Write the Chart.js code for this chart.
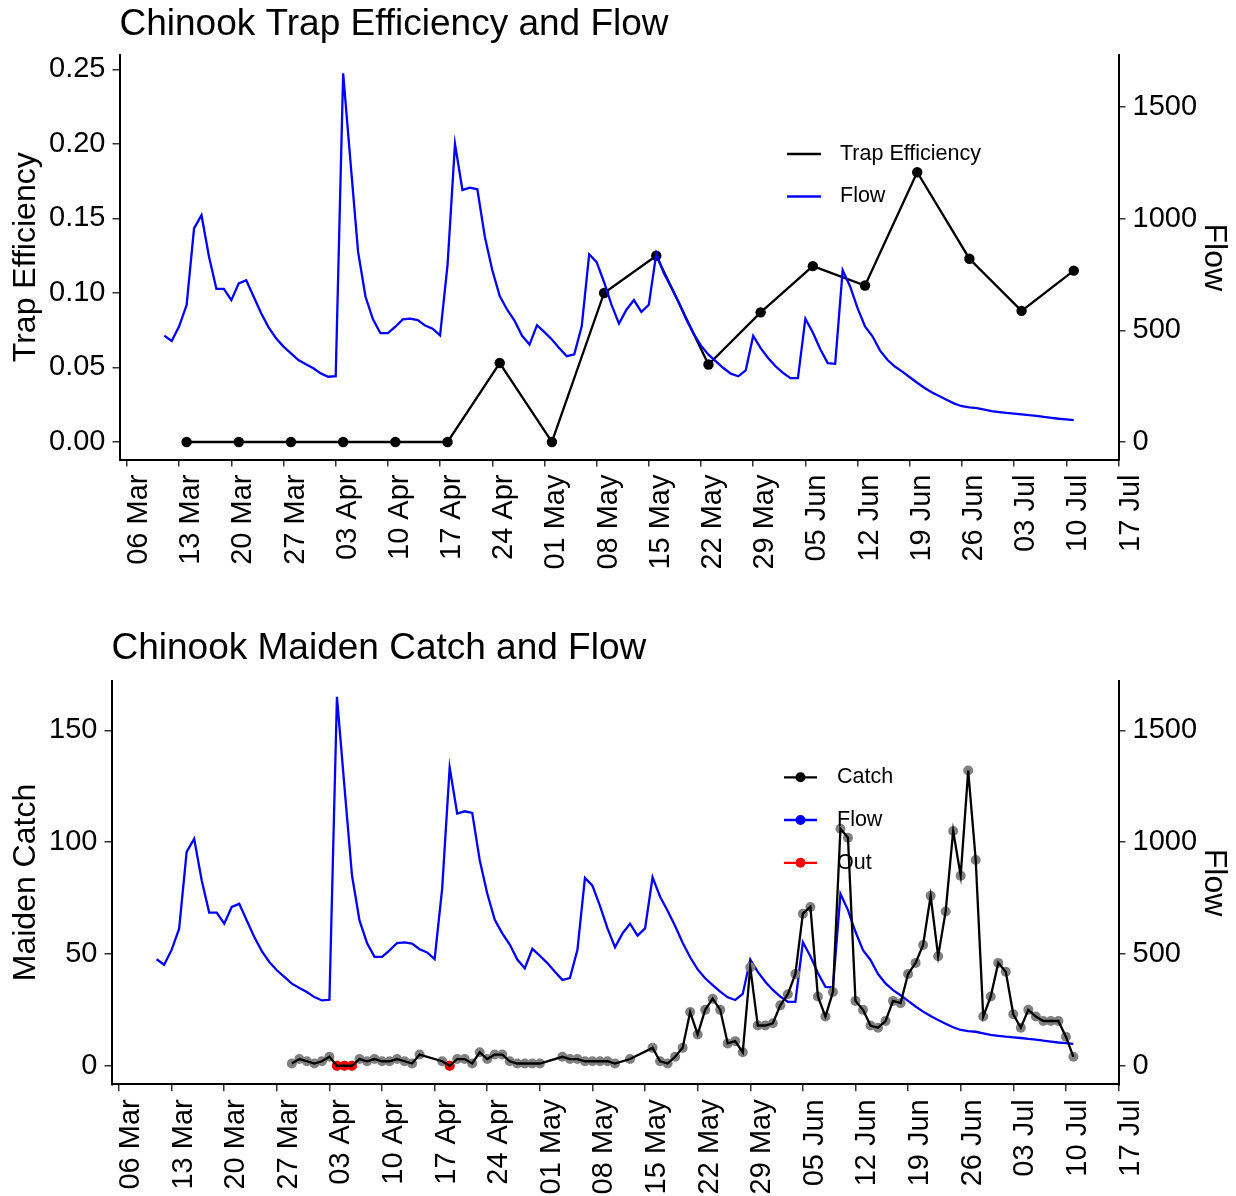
<!DOCTYPE html>
<html>
<head>
<meta charset="utf-8">
<script src="https://cdn.jsdelivr.net/npm/chart.js@4.4.1/dist/chart.umd.min.js"></script>
<style>
  html, body { margin: 0; padding: 0; background: #ffffff; }
  #wrap { position: relative; width: 1236px; height: 1196px; overflow: hidden; }
  canvas { position: absolute; left: 0; }
  #c1 { top: 0; width: 1236px; height: 600px; }
  #c2 { top: 600px; width: 1236px; height: 596px; }
</style>
</head>
<body>
<div id="wrap">
  <canvas id="c1" width="1236" height="600"></canvas>
  <canvas id="c2" width="1236" height="596"></canvas>
</div>
<script>
// ---------------- DATA ----------------
const tickDates  = ["03-06","03-13","03-20","03-27","04-03","04-10","04-17","04-24","05-01","05-08",
                    "05-15","05-22","05-29","06-05","06-12","06-19","06-26","07-03","07-10","07-17"];
const tickLabels = ["06 Mar","13 Mar","20 Mar","27 Mar","03 Apr","10 Apr","17 Apr","24 Apr","01 May","08 May",
                    "15 May","22 May","29 May","05 Jun","12 Jun","19 Jun","26 Jun","03 Jul","10 Jul","17 Jul"];

// Daily flow, first value on 11 Mar, one value per day through 11 Jul
const flowStart = "03-11";
const flowValues = [
  476, 452, 518, 613, 956, 1015, 830, 685, 685, 635,
  710, 724, 650, 576, 513, 464, 427, 397, 367, 348,
  330, 307, 292, 295, 1650, 1247, 852, 650, 549, 487,
  487, 516, 549, 552, 546, 521, 507, 477, 792, 1334,
  1128, 1138, 1131, 919, 770, 653, 592, 542, 475, 436,
  523, 492, 459, 420, 384, 392, 518, 840, 805, 715,
  614, 530, 592, 635, 582, 614, 843, 756, 693, 625,
  550, 485, 431, 391, 361, 331, 306, 294, 321, 475,
  420, 376, 339, 309, 286, 286, 552, 490, 415, 353,
  350, 769, 696, 599, 517, 473, 410, 368, 338, 315,
  290, 265, 242, 222, 205, 188, 172, 160, 155, 152,
  145, 138, 134, 130, 127, 124, 120, 117, 112, 108,
  104, 101, 98
];

// Weekly trap efficiency
const teDates  = ["03-14","03-21","03-28","04-04","04-11","04-18","04-25","05-02","05-09",
                  "05-16","05-23","05-30","06-06","06-13","06-20","06-27","07-04","07-11"];
const teValues = [0, 0, 0, 0, 0, 0, 0.053, 0, 0.100,
                  0.125, 0.052, 0.087, 0.118, 0.105, 0.181, 0.123, 0.088, 0.115];

// Daily maiden catch
const catchDates = [
  "03-29","03-30","03-31","04-01","04-02","04-03","04-04","04-05","04-06","04-07",
  "04-08","04-09","04-10","04-11","04-12","04-13","04-14","04-15","04-18","04-19",
  "04-20","04-21","04-22","04-23","04-24","04-25","04-26","04-27","04-28","04-29",
  "04-30","05-01","05-04","05-05","05-06","05-07","05-08","05-09","05-10","05-11",
  "05-13","05-16","05-17","05-18","05-19","05-20","05-21","05-22","05-23","05-24",
  "05-25","05-26","05-27","05-28","05-29","05-30","05-31","06-01","06-02","06-03",
  "06-04","06-05","06-06","06-07","06-08","06-09","06-10","06-11","06-12","06-13",
  "06-14","06-15","06-16","06-17","06-18","06-19","06-20","06-21","06-22","06-23",
  "06-24","06-25","06-26","06-27","06-28","06-29","06-30","07-01","07-02","07-03",
  "07-04","07-05","07-06","07-07","07-08","07-09","07-10","07-11"
];
const catchValues = [
  1, 3, 2, 1, 2, 4, 0, 0, 0, 3,
  2, 3, 2, 2, 3, 2, 1, 5, 2, 0,
  3, 3, 1, 6, 3, 5, 5, 2, 1, 1,
  1, 1, 4, 3, 3, 2, 2, 2, 2, 1,
  3, 8, 2, 1, 4, 8, 24, 14, 25, 30,
  25, 10, 11, 6, 44, 18, 18, 19, 27, 32,
  41, 68, 71, 31, 22, 33, 106, 102, 29, 25,
  18, 17, 20, 29, 28, 41, 46, 54, 76, 49,
  69, 105, 85, 132, 92, 22, 31, 46, 42, 23,
  17, 25, 22, 20, 20, 20, 13, 4
];

// Days when the trap was out
const outDates  = ["04-04","04-05","04-06","04-19"];
const outValues = [0, 0, 0, 0];

const teTicks    = [0, 0.05, 0.10, 0.15, 0.20, 0.25];
const flowTicks  = [0, 500, 1000, 1500];
const catchTicks = [0, 50, 100, 150];

// ---------------- HELPERS ----------------
const REF = Date.UTC(2001, 2, 6);
function dayOf(md) {
  const [m, d] = md.split("-").map(Number);
  return (Date.UTC(2001, m - 1, d) - REF) / 86400000;
}
const flowPoints  = flowValues.map((v, i) => ({ x: dayOf(flowStart) + i, y: v }));
const tePoints    = teDates.map((d, i) => ({ x: dayOf(d), y: teValues[i] }));
const catchPoints = catchDates.map((d, i) => ({ x: dayOf(d), y: catchValues[i] }));
const outPoints   = outDates.map((d, i) => ({ x: dayOf(d), y: outValues[i] }));

const FONT = '"Liberation Sans", Arial, Helvetica, sans-serif';
Chart.defaults.font.family = FONT;
Chart.defaults.color = "#000";

const X_MIN = dayOf("03-05");
const X_MAX = dayOf("07-17");
const LINE_W = 2.3;

function xAxis(height) {
  return {
    type: "linear",
    min: X_MIN,
    max: X_MAX,
    afterBuildTicks: s => { s.ticks = tickDates.map(t => ({ value: dayOf(t) })); },
    ticks: {
      autoSkip: false, minRotation: 90, maxRotation: 90,
      labelOffset: 12, padding: 8, color: "#000",
      font: { size: 29 },
      callback: (v, i) => tickLabels[i]
    },
    grid: { drawOnChartArea: false, drawTicks: true, tickLength: 7, color: "#333", lineWidth: 1.5 },
    border: { display: true, color: "#000", width: 2 },
    afterFit: s => { s.height = height; }
  };
}

function yAxis(opts) {
  return {
    type: "linear",
    position: opts.position,
    min: opts.min,
    max: opts.max,
    afterBuildTicks: s => { s.ticks = opts.ticks.map(v => ({ value: v })); },
    ticks: { color: "#000", font: { size: 29 }, padding: 7, callback: opts.fmt },
    grid: { drawOnChartArea: false, drawTicks: true, tickLength: 7, color: "#333", lineWidth: 1.5 },
    border: { display: true, color: "#000", width: 2 },
    title: { display: true, text: opts.title, color: "#000", font: { size: 32 },
             padding: { top: opts.titlePad, bottom: 0 } },
    afterFit: s => { s.width = opts.width; }
  };
}

const manualLegend = {
  id: "manualLegend",
  afterDraw(chart, args, o) {
    if (!o || !o.items) return;
    const ctx = chart.ctx;
    ctx.save();
    o.items.forEach(it => {
      const ds = chart.data.datasets[it.ds];
      ctx.strokeStyle = it.color;
      ctx.lineWidth = LINE_W;
      ctx.beginPath();
      ctx.moveTo(o.x0, it.y);
      ctx.lineTo(o.x1, it.y);
      ctx.stroke();
      if (o.dots) {
        ctx.fillStyle = it.color;
        ctx.beginPath();
        ctx.arc((o.x0 + o.x1) / 2, it.y, 5, 0, Math.PI * 2);
        ctx.fill();
      }
      ctx.fillStyle = "#000";
      ctx.font = "21.5px " + FONT;
      ctx.textAlign = "left";
      ctx.textBaseline = "middle";
      ctx.fillText(ds.label, o.tx, it.y);
    });
    ctx.restore();
  }
};

// ---------------- CHART 1 ----------------
new Chart(document.getElementById("c1"), {
  type: "line",
  data: {
    datasets: [
      { label: "Flow", data: flowPoints, yAxisID: "y1", borderColor: "#0000FF", borderWidth: LINE_W,
        pointRadius: 0, tension: 0, order: 0 },
      { label: "Trap Efficiency", data: tePoints, yAxisID: "y", borderColor: "#000", backgroundColor: "#000",
        borderWidth: LINE_W, pointRadius: 5.2, pointBorderWidth: 0, pointBackgroundColor: "#000", tension: 0, order: 1 }
    ]
  },
  options: {
    responsive: false, animation: false, devicePixelRatio: 1,
    layout: { padding: { top: 3, left: 0, right: 0, bottom: 0 }, autoPadding: false },
    plugins: {
      legend: { display: false },
      tooltip: { enabled: false },
      title: { display: true, text: "Chinook Trap Efficiency and Flow", align: "start", fullSize: false,
               color: "#000", font: { size: 37, weight: "normal" }, padding: { top: 0, bottom: 7.6 } },
      manualLegend: { x0: 787, x1: 821, tx: 840, dots: false,
        items: [ { ds: 1, color: "#000", y: 154 }, { ds: 0, color: "#0000FF", y: 196.5 } ] }
    },
    scales: {
      x: xAxis(140.5),
      y: yAxis({ position: "left", min: -0.01174, max: 0.2597, ticks: teTicks, fmt: v => v.toFixed(2),
                 title: "Trap Efficiency", titlePad: 7, width: 119.5 }),
      y1: yAxis({ position: "right", min: -78.3, max: 1732, ticks: flowTicks, fmt: v => String(v),
                  title: "Flow", titlePad: 2.5, width: 117.5 })
    }
  },
  plugins: [manualLegend]
});

// ---------------- CHART 2 ----------------
new Chart(document.getElementById("c2"), {
  type: "line",
  data: {
    datasets: [
      { label: "Catch", data: catchPoints, yAxisID: "y", borderColor: "#000", borderWidth: LINE_W,
        pointRadius: 0, tension: 0, order: 0 },
      { label: "Out", data: outPoints, yAxisID: "y", showLine: false, pointRadius: 5, pointBorderWidth: 0,
        pointBackgroundColor: "#FF0000", backgroundColor: "#FF0000", borderColor: "#FF0000", order: 1 },
      { label: "Catch points", data: catchPoints, yAxisID: "y", showLine: false, pointRadius: 5,
        pointBorderWidth: 0, pointBackgroundColor: "#808080", backgroundColor: "#808080", borderColor: "#808080", order: 2 },
      { label: "Flow", data: flowPoints, yAxisID: "y1", borderColor: "#0000FF", borderWidth: LINE_W,
        pointRadius: 0, tension: 0, order: 3 }
    ]
  },
  options: {
    responsive: false, animation: false, devicePixelRatio: 1,
    layout: { padding: { top: 26.3, left: 0, right: 0, bottom: 0 }, autoPadding: false },
    plugins: {
      legend: { display: false },
      tooltip: { enabled: false },
      title: { display: true, text: "Chinook Maiden Catch and Flow", align: "start", fullSize: false,
               color: "#000", font: { size: 37, weight: "normal" }, padding: { top: 0, bottom: 10 } },
      manualLegend: { x0: 784, x1: 817, tx: 837, dots: true,
        items: [ { ds: 0, color: "#000", y: 177.3 }, { ds: 3, color: "#0000FF", y: 220 }, { ds: 1, color: "#FF0000", y: 262.8 } ] }
    },
    scales: {
      x: xAxis(111.7),
      y: yAxis({ position: "left", min: -8.3, max: 172.2, ticks: catchTicks, fmt: v => String(v),
                 title: "Maiden Catch", titlePad: 7, width: 111.5 }),
      y1: yAxis({ position: "right", min: -83, max: 1722, ticks: flowTicks, fmt: v => String(v),
                  title: "Flow", titlePad: 2.5, width: 117.5 })
    }
  },
  plugins: [manualLegend]
});
</script>
</body>
</html>
